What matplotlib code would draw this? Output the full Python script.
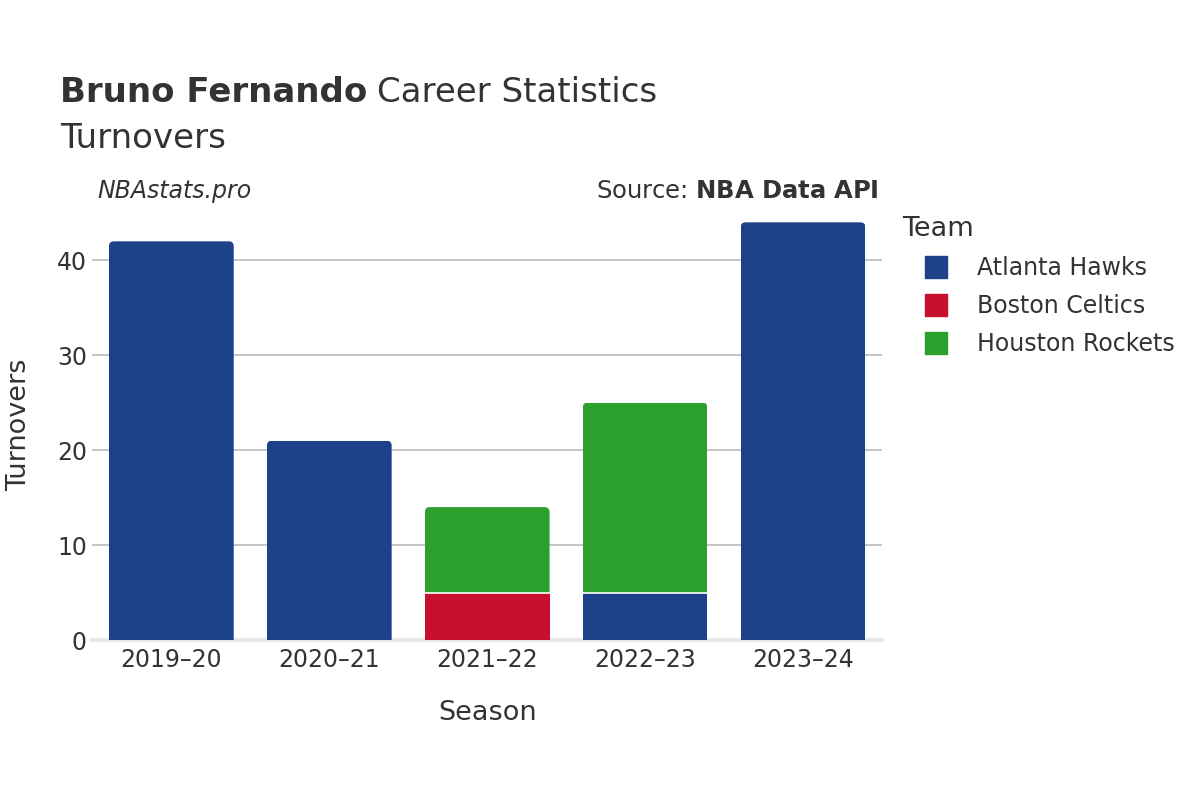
import matplotlib
matplotlib.use('Agg')
import matplotlib.pyplot as plt
import matplotlib.patches as mpatches
from matplotlib.lines import Line2D

# Data
seasons = ['2019–20', '2020–21', '2021–22', '2022–23', '2023–24']
teams = ['Atlanta Hawks', 'Boston Celtics', 'Houston Rockets']
atlanta = [42, 21, 0, 5, 44]
boston = [0, 0, 5, 0, 0]
houston = [0, 0, 9, 20, 0]

team_values = {'Atlanta Hawks': atlanta, 'Boston Celtics': boston, 'Houston Rockets': houston}
team_colors = {'Atlanta Hawks': '#1d428a', 'Boston Celtics': '#c8102e', 'Houston Rockets': '#2ca02c'}

text_color = '#333333'
plt.rcParams['font.family'] = ['DejaVu Sans']

fig = plt.figure(figsize=(12, 8), dpi=100)
ax = fig.add_axes([0.077, 0.2, 0.658, 0.5375])

x = list(range(len(seasons)))
bar_w = 0.79
bottoms = [0] * len(seasons)
tops = [sum(team_values[t][i] for t in teams) for i in range(len(seasons))]

# px-per-unit so the rounded corners look round
px_x = 158.0
px_y = 9.5
radius_px = 5.0

for team in teams:
    vals = team_values[team]
    for i, v in enumerate(vals):
        if v <= 0:
            continue
        b = bottoms[i]
        bars = ax.bar(i, v, bottom=b, width=bar_w, color=team_colors[team],
                      edgecolor='none', zorder=3)
        if abs(b + v - tops[i]) < 1e-9:
            # top segment: clip to a box with rounded top corners
            r = radius_px / px_x
            clip = mpatches.FancyBboxPatch((i - bar_w / 2, b - 2), bar_w, v + 2,
                                           boxstyle=f'round,pad=0,rounding_size={r}',
                                           mutation_aspect=px_x / px_y,
                                           facecolor='none', edgecolor='none',
                                           transform=ax.transData)
            bars[0].set_clip_path(clip)
        if b > 0:
            ax.plot([i - bar_w / 2, i + bar_w / 2], [b, b], color='white', lw=1.2, zorder=4)
        bottoms[i] += v

ax.set_xlim(-0.5, len(seasons) - 0.5)
ax.set_ylim(0, 45.3)
ax.set_yticks([0, 10, 20, 30, 40])
ax.set_xticks(x)
ax.set_xticklabels(seasons)
ax.tick_params(axis='both', length=0, labelsize=17, colors=text_color)
ax.tick_params(axis='x', pad=6)
ax.tick_params(axis='y', pad=4)
ax.grid(axis='y', color='#bbbbbb', lw=1.2, zorder=0)
for side in ['top', 'right', 'left']:
    ax.spines[side].set_visible(False)
ax.spines['bottom'].set_color('#e8e8e8')
ax.spines['bottom'].set_linewidth(3)

ax.set_xlabel('Season', fontsize=19.5, color=text_color, labelpad=20)
ax.set_ylabel('Turnovers', fontsize=19.5, color=text_color, labelpad=18)

# Titles
t1 = fig.text(0.05, 0.872, 'Bruno Fernando', fontsize=24.5, fontweight='bold',
              color=text_color, va='baseline')
fig.canvas.draw()
bb = t1.get_window_extent()
fig.text(bb.x1 / fig.bbox.width + 0.008, 0.872, 'Career Statistics', fontsize=24.5,
         color=text_color, va='baseline')
fig.text(0.05, 0.815, 'Turnovers', fontsize=24.5, color=text_color, va='baseline')

fig.text(0.081, 0.753, 'NBAstats.pro', fontsize=17, style='italic', color=text_color, va='baseline')
fig.text(0.732, 0.753, 'Source: $\\bf{NBA\\ Data\\ API}$', fontsize=17.5, color=text_color,
         ha='right', va='baseline')

handles = [Line2D([0], [0], marker='s', linestyle='none', markersize=16,
                  markerfacecolor=team_colors[t], markeredgecolor=team_colors[t]) for t in teams]
leg = fig.legend(handles, teams, loc='upper left', bbox_to_anchor=(0.7435, 0.742),
                 frameon=False, fontsize=17, title='Team', title_fontsize=19.5,
                 alignment='left', labelspacing=0.6, handlelength=2.9, handletextpad=0.3,
                 borderaxespad=0)
for t in leg.get_texts():
    t.set_color(text_color)
leg.get_title().set_color(text_color)

fig.savefig('out.png', dpi=100)
